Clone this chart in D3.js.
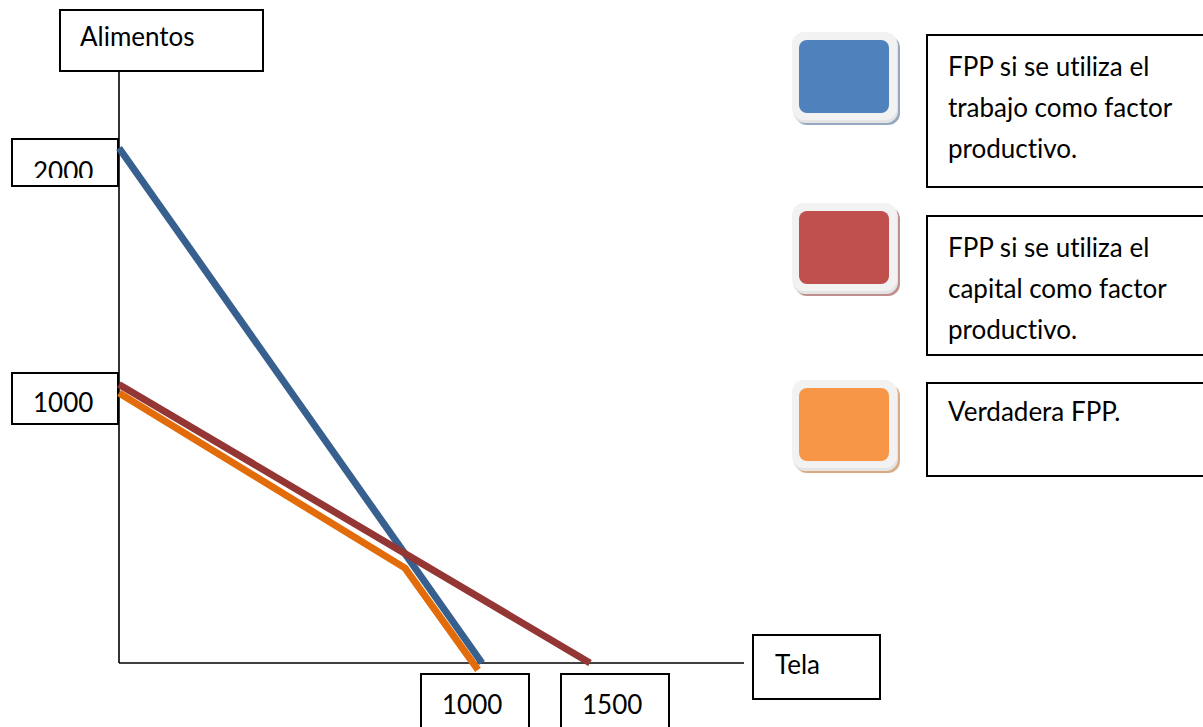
<!DOCTYPE html>
<html>
<head>
<meta charset="utf-8">
<script src="https://cdn.jsdelivr.net/npm/d3@7"></script>
<style>
  html, body { margin: 0; padding: 0; background: #fff; }
  svg { display: block; }
  text { font-family: Lato, "Open Sans", sans-serif; fill: #000; font-variant-ligatures: none; font-feature-settings: "liga" 0; }
</style>
</head>
<body>
<svg id="chart" width="1203" height="727"></svg>
<script>
// ---- data ----
const xAxisTitle = "Tela";
const yAxisTitle = "Alimentos";
const xTickLabels = ["1000", "1500"];
const yTickLabels = ["2000", "1000"];
const xTickValues = [1000, 1500];
const yTickValues = [2000, 1000];

const seriesNames = ["trabajo", "capital", "verdadera"];
const trabajoX = [0, 1000];
const trabajoY = [2000, 0];
const capitalX = [0, 1500];
const capitalY = [1015, 0];
const verdaderaX = [0, 788, 989];
const verdaderaY = [982, 345, -25];

const legendLabels = [
  ["FPP si se utiliza el", "trabajo como factor", "productivo."],
  ["FPP si se utiliza el", "capital como factor", "productivo."],
  ["Verdadera FPP."]
];

// ---- styles / layout ----
const lineColors = ["#37608f", "#943634", "#e36c0a"];
const swatchFill = ["#4f81bd", "#c0504d", "#f79646"];
const swatchShadow = ["#95a8c0", "#bf8f8e", "#d9ab85"];
const fontSize = 26;

const svg = d3.select("#chart");

// poly-linear scales (hand-drawn diagram axes)
const x = d3.scaleLinear().domain([0, 1000, 1500]).range([119, 482, 590]);
const y = d3.scaleLinear().domain([0, 1000, 2000]).range([663, 388, 148]);

// axes lines
svg.append("line").attr("x1", x(0)).attr("x2", 744).attr("y1", y(0)).attr("y2", y(0))
  .attr("stroke", "#000").attr("stroke-width", 1.6);
svg.append("line").attr("x1", x(0)).attr("x2", x(0)).attr("y1", 71).attr("y2", y(0))
  .attr("stroke", "#000").attr("stroke-width", 1.6);

// boxed label helper
function box(x0, y0, w, h, label, tx, ty, clipBottom) {
  const g = svg.append("g");
  g.append("rect").attr("x", x0).attr("y", y0).attr("width", w).attr("height", h)
    .attr("fill", "#fff").attr("stroke", "#000").attr("stroke-width", 2);
  const t = g.append("text").attr("x", tx).attr("y", ty)
    .attr("font-size", fontSize).text(label);
  if (clipBottom !== undefined) {
    const id = "clip" + Math.round(x0) + Math.round(y0);
    svg.append("defs").append("clipPath").attr("id", id)
      .append("rect").attr("x", x0).attr("y", y0).attr("width", w).attr("height", clipBottom - y0);
    t.attr("clip-path", `url(#${id})`);
  }
  return g;
}

// axis title boxes
box(60, 10, 203, 61, yAxisTitle, 80, 46);
box(753, 635, 127, 64, xAxisTitle, 775, 674);

// y tick label boxes
yTickValues.forEach((v, i) => {
  const cy = y(v) + (i === 0 ? 15 : 9);
  box(12, cy - 24, 106, 48 + (i === 0 ? -1 : 3), yTickLabels[i], 33, i === 0 ? cy + 18 : cy + 15,
      i === 0 ? cy + 15 : undefined);
});

// x tick label boxes
xTickValues.forEach((v, i) => {
  const cx = x(v) + (i === 0 ? -7 : 25);
  box(cx - 54, 674, 108, 70, xTickLabels[i], cx - 33, 714);
});

// series lines
const lineGen = d3.line().x(d => x(d[0])).y(d => y(d[1]));
const seriesData = [
  d3.zip(trabajoX, trabajoY),
  d3.zip(verdaderaX, verdaderaY),
  d3.zip(capitalX, capitalY)
];
const seriesColorIdx = [0, 2, 1];
seriesData.forEach((pts, i) => {
  svg.append("path").attr("d", lineGen(pts))
    .attr("fill", "none")
    .attr("stroke", lineColors[seriesColorIdx[i]])
    .attr("stroke-width", 7)
    .attr("stroke-linecap", "butt")
    .attr("stroke-linejoin", "miter");
});

// legend
const swatchTops = [32, 203, 380];
const legendBoxTops = [35, 216, 383];
const legendBoxHeights = [152, 139, 93];
seriesNames.forEach((s, i) => {
  const top = swatchTops[i];
  const g = svg.append("g");
  g.append("rect").attr("x", 795).attr("y", top + 4).attr("width", 105).attr("height", 89)
    .attr("rx", 12).attr("fill", swatchShadow[i]);
  g.append("rect").attr("x", 793).attr("y", top + 2).attr("width", 105).attr("height", 89)
    .attr("rx", 12).attr("fill", "#e4e4e4");
  g.append("rect").attr("x", 792).attr("y", top).attr("width", 105).attr("height", 88)
    .attr("rx", 12).attr("fill", "#f2f2f2");
  g.append("rect").attr("x", 799).attr("y", top + 8).attr("width", 90).attr("height", 73)
    .attr("rx", 8).attr("fill", swatchFill[i]);

  const bt = legendBoxTops[i];
  svg.append("rect").attr("x", 927).attr("y", bt).attr("width", 300).attr("height", legendBoxHeights[i])
    .attr("fill", "#fff").attr("stroke", "#000").attr("stroke-width", 2);
  const t = svg.append("text").attr("font-size", fontSize);
  legendLabels[i].forEach((line, j) => {
    t.append("tspan").attr("x", 948).attr("y", bt + (i === 2 ? 38 : 41) + j * 41).text(line);
  });
});
</script>
</body>
</html>
